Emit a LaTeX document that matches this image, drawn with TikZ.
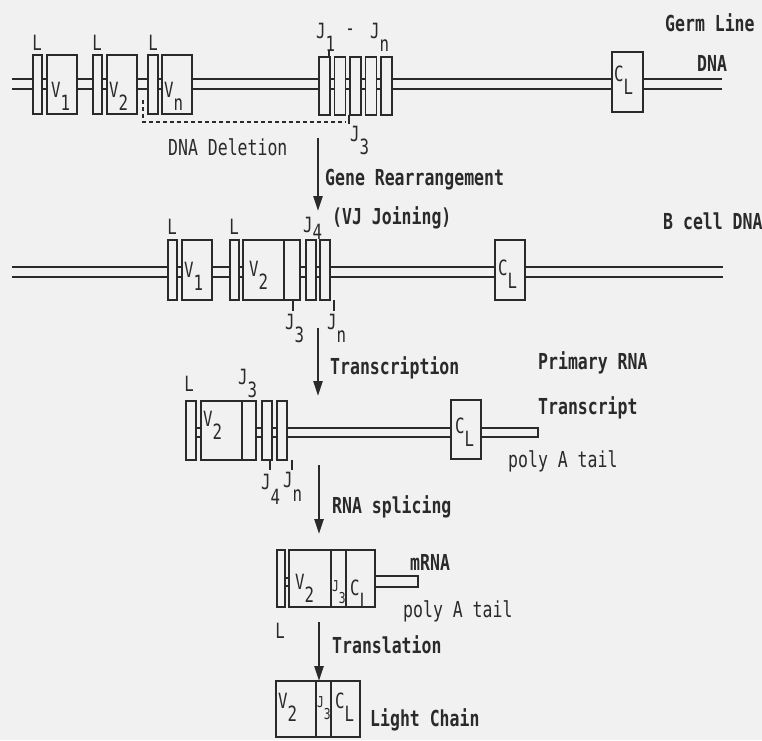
\documentclass[tikz,border=0pt]{standalone}
\usepackage{fontspec}
\usetikzlibrary{arrows.meta}
\newfontfamily\dm[FakeStretch=0.75]{DejaVu Sans Mono}
\newcommand\lo[1]{\raisebox{-13pt}{#1}}
\newcommand\lom[1]{\raisebox{-7pt}{#1}}
\definecolor{bgc}{HTML}{F1F1F1}
\definecolor{ink}{HTML}{2A2A2A}
\tikzset{
 dna/.style={draw=ink, line width=1.8pt},
 gbox/.style={draw=ink, line width=1.4pt, fill=bgc},
 big/.style={font=\dm\fontsize{22}{24}\selectfont, inner sep=0pt, text=ink, anchor=west},
 bigb/.style={font=\dm\bfseries\fontsize{22}{24}\selectfont, inner sep=0pt, text=ink, anchor=west},
 inl/.style={font=\dm\fontsize{21}{23}\selectfont, inner sep=0pt, text=ink, anchor=north west},
 inls/.style={font=\dm\fontsize{15}{17}\selectfont, inner sep=0pt, text=ink, anchor=north west},
 lone/.style={font=\dm\fontsize{21}{23}\selectfont, inner sep=0pt, text=ink},
 tick/.style={draw=ink, line width=1.3pt},
 dele/.style={draw=ink, line width=1.5pt, dash pattern=on 4pt off 3pt},
 stage/.style={draw=ink, line width=2.6pt, -{Triangle[length=15pt,width=9pt]}},
}
\newcommand\gb[4]{\draw[gbox] (#1,#2) rectangle (#3,#4);}
\begin{document}
\begin{tikzpicture}[x=1pt,y=-1pt]
\fill[bgc] (0,0) rectangle (762,740);
\useasboundingbox (0,0) rectangle (762,740);

% ---------- Row 1: germ line DNA
\draw[dna] (12,79) -- (722,79) (12,89) -- (722,89);
\gb{33}{55}{42}{114}
\gb{47}{55}{77}{114}
\gb{93}{55}{102}{114}
\gb{107}{55}{137}{114}
\gb{148}{55}{158}{114}
\gb{162}{55}{192}{114}
\foreach \i in {0,...,4}{\gb{319+15.5*\i}{57}{330+15.5*\i}{115}}
\gb{612}{52}{643}{112}
\node[lone] (l1a) at (37,43) {L};
\node[lone] (l1b) at (97,43) {L};
\node[lone] (l1c) at (153,43) {L};
\node[inl] (v11) at (51,82) {V\lo{1}};
\node[inl] (v12) at (109,82) {V\lo{2}};
\node[inl] (v1n) at (164,82) {V\lo{n}};
\node[inl] (c1) at (614,66) {C\lo{L}};
\node[inl] (j1) at (316,23) {J\lo{1}};
\node[lone] (jdash) at (350,32) {-};
\node[inl] (jn) at (370,23) {J\lo{n}};
\node[inl] (j3a) at (350,126) {J\lo{3}};
\draw[tick] (329,50) -- (329,57);
\draw[tick] (349,115) -- (349,124);
\draw[dele] (143,100) -- (143,122) -- (346,122);
\node[big] (del) at (168,147) {DNA Deletion};
\node[bigb] (germ) at (665,23) {Germ Line};
\node[bigb] (gdna) at (697,63) {DNA};

% ---------- arrow 1
\coordinate (a1s) at (318,138);
\coordinate (a1e) at (318,211);
\draw[stage] (a1s) -- (a1e);
\node[bigb] (gr) at (325,180) {Gene Rearrangement};
\node[bigb] (vj) at (332,218) {(VJ Joining)};

% ---------- Row 2: B cell DNA
\draw[dna] (12,267) -- (723,267) (12,277) -- (723,277);
\gb{168}{240}{177}{300}
\gb{182}{240}{212}{300}
\gb{230}{240}{239}{300}
\gb{243}{240}{300}{300}
\draw[gbox] (284,240) -- (284,300);
\gb{306}{240}{316}{300}
\gb{320}{240}{330}{300}
\gb{495}{240}{525}{300}
\node[lone] (l2a) at (172,227) {L};
\node[lone] (l2b) at (234,227) {L};
\node[inl] (v21) at (184,262) {V\lo{1}};
\node[inl] (v22) at (249,261) {V\lo{2}};
\node[inl] (c2) at (498,260) {C\lo{L}};
\node[inl] (j24) at (303,217) {J\lom{4}};
\node[inl] (j23) at (285,314) {J\lo{3}};
\node[inl] (j2n) at (327,314) {J\lo{n}};
\draw[tick] (293,300) -- (293,311);
\draw[tick] (334,300) -- (334,311);
\node[bigb] (bcell) at (663,221) {B cell DNA};

% ---------- arrow 2
\coordinate (a2s) at (318,328);
\coordinate (a2e) at (318,396);
\draw[stage] (a2s) -- (a2e);
\node[bigb] (tr) at (330,368) {Transcription};

% ---------- Row 3: primary RNA transcript
\draw[dna] (190,428) -- (451,428) (190,437) -- (451,437);
\gb{186}{401}{196}{460}
\gb{201}{401}{256}{460}
\draw[gbox] (242,401) -- (242,460);
\gb{262}{401}{272}{460}
\gb{277}{401}{287}{460}
\gb{451}{400}{481}{459}
\draw[gbox] (481,428) rectangle (538,437);
\node[lone] (l3) at (189,384) {L};
\node[inl] (v32) at (203,411) {V\lo{2}};
\node[inl] (c3) at (455,418) {C\lo{L}};
\node[inl] (j33) at (238,369) {J\lo{3}};
\node[inl] (j34) at (261,474) {J\raisebox{-15pt}{4}};
\node[inl] (j3n) at (283,472) {J\raisebox{-14pt}{n}};
\draw[tick] (270,460) -- (270,470);
\draw[tick] (292,460) -- (292,470);
\node[bigb] (prim) at (538,363) {Primary RNA};
\node[bigb] (trs) at (538,408) {Transcript};
\node[big] (pa1) at (508,461) {poly A tail};

% ---------- arrow 3
\coordinate (a3s) at (319,465);
\coordinate (a3e) at (319,534);
\draw[stage] (a3s) -- (a3e);
\node[bigb] (spl) at (332,507) {RNA splicing};

% ---------- Row 4: mRNA
\draw[dna] (285,578) -- (289,578) (285,586) -- (289,586);
\gb{277}{550}{285}{607}
\gb{289}{550}{375}{607}
\draw[gbox] (331,550) -- (331,607) (346,550) -- (346,607);
\draw[gbox] (375,576) rectangle (418,587);
\node[inl] (v42) at (295,574) {V\lo{2}};
\node[inls] (j43) at (332,580) {J\raisebox{-12pt}{3}};
\node[inl] (c4) at (350,580) {C\lo{L}};
\node[lone] (l4) at (280,631) {L};
\node[bigb] (mrna) at (410,562) {mRNA};
\node[big] (pa2) at (403,611) {poly A tail};

% ---------- arrow 4
\coordinate (a4s) at (319,622);
\coordinate (a4e) at (319,681);
\draw[stage] (a4s) -- (a4e);
\node[bigb] (tl) at (332,645) {Translation};

% ---------- Row 5: light chain
\gb{276}{681}{360}{737}
\draw[gbox] (316,681) -- (316,737) (331,681) -- (331,737);
\node[inl] (v52) at (278,693) {V\lo{2}};
\node[inls] (j53) at (317,696) {J\raisebox{-12pt}{3}};
\node[inl] (c5) at (335,693) {C\lo{L}};
\node[bigb] (lc) at (370,720) {Light Chain};
\end{tikzpicture}
\end{document}
